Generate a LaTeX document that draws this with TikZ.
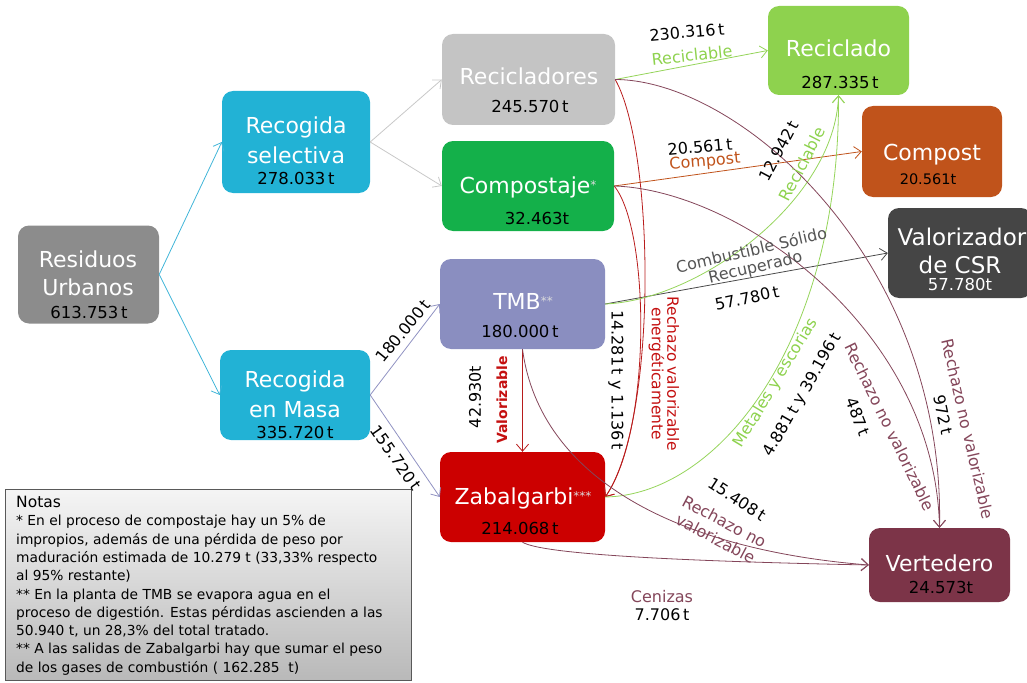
\documentclass[tikz,border=0pt]{standalone}
\usepackage{fontspec}
\setmainfont{DejaVu Sans}
\usetikzlibrary{arrows.meta}

\definecolor{cRes}{HTML}{8C8C8C}
\definecolor{cCyan}{HTML}{22B2D5}
\definecolor{cRecic}{HTML}{C4C4C4}
\definecolor{cCompo}{HTML}{14B04A}
\definecolor{cTMB}{HTML}{8A8EC0}
\definecolor{cZab}{HTML}{CC0000}
\definecolor{cRcl}{HTML}{8ED24E}
\definecolor{cCompost}{HTML}{C0531B}
\definecolor{cVal}{HTML}{454545}
\definecolor{cVert}{HTML}{7C3448}
\definecolor{eCyan}{HTML}{40B5D8}
\definecolor{eGrey}{HTML}{C8C8C8}
\definecolor{eLav}{HTML}{9092C2}
\definecolor{eRed}{HTML}{B81C1C}
\definecolor{eGreen}{HTML}{95D45A}
\definecolor{eBrown}{HTML}{C0531B}
\definecolor{eCSR}{HTML}{4A4A4A}
\definecolor{eMar}{HTML}{84465A}
\definecolor{lRed}{HTML}{C41010}
\definecolor{lGreen}{HTML}{8ED24E}
\definecolor{lMar}{HTML}{84465A}
\definecolor{lGrey}{HTML}{555555}
\definecolor{cStar}{HTML}{DDDDDD}

\newcommand{\stars}[1]{{\color{cStar}\fontsize{12}{12}\selectfont\raisebox{4pt}{#1}}}

\begin{document}
\begin{tikzpicture}[x=1pt,y=-1pt,
  box/.style={rounded corners=11pt, inner sep=0pt, draw=none},
  ttl/.style={text=white, font=\fontsize{22}{26}\selectfont, anchor=base, inner sep=0pt},
  num/.style={text=black, font=\fontsize{16.5}{19}\selectfont, anchor=base, inner sep=0pt},
  lbl/.style={font=\fontsize{16}{19}\selectfont, inner sep=0pt, align=center},
  conn/.style={line width=0.8pt, -{Straight Barb[length=7pt,width=12pt]}}
]
\useasboundingbox (0,0) rectangle (1027,682);

% boxes
\node[box, fill=cRes, minimum width=141pt, minimum height=98pt] (res) at (88.5,274.5) {};
\node[box, fill=cCyan, minimum width=148pt, minimum height=102pt] (sel) at (296,142) {};
\node[box, fill=cCyan, minimum width=150pt, minimum height=90pt] (masa) at (295,395) {};
\node[box, fill=cRecic, minimum width=173pt, minimum height=91pt] (recic) at (528.5,79.5) {};
\node[box, fill=cCompo, minimum width=172pt, minimum height=90pt] (compo) at (528,186) {};
\node[box, fill=cTMB, minimum width=165pt, minimum height=90pt] (tmb) at (522.5,304) {};
\node[box, fill=cZab, minimum width=165pt, minimum height=90pt] (zab) at (522.5,497) {};
\node[box, fill=cRcl, minimum width=141pt, minimum height=89pt] (rcl) at (838.5,50.5) {};
\node[box, fill=cCompost, minimum width=140pt, minimum height=91pt] (compost) at (932,151.5) {};
\node[box, fill=cVal, minimum width=144pt, minimum height=90pt] (val) at (960,253) {};
\node[box, fill=cVert, minimum width=141pt, minimum height=74pt] (vert) at (939.5,565) {};

% notes box
\node[draw=gray!70!black, line width=0.8pt, top color=gray!8, bottom color=gray!55, minimum width=406pt, minimum height=191pt, inner sep=0pt] (notes) at (208,584.5) {};
\node[anchor=north west, inner sep=0pt, align=left, font=\fontsize{13.8}{18.3}\selectfont] (ntxt) at (16,496) {{\fontsize{15.5}{18}\selectfont Notas}\\
* En el proceso de compostaje hay un 5\% de\\
impropios, además de una pérdida de peso por\\
maduración estimada de 10.279 t (33,33\% respecto\\
al 95\% restante)\\
** En la planta de TMB se evapora agua en el\\
proceso de digestión. Estas pérdidas ascienden a las\\
50.940 t, un 28,3\% del total tratado.\\
** A las salidas de Zabalgarbi hay que sumar el peso\\
de los gases de combustión ( 162.285 \ t)};

% connectors
\draw[conn, eCyan] (res.east) -- (sel.west);
\draw[conn, eCyan] (res.east) -- (masa.west);
\draw[conn, eGrey] (sel.east) -- (recic.west);
\draw[conn, eGrey] (sel.east) -- (compo.west);
\draw[conn, eLav] (masa.east) -- (tmb.west);
\draw[conn, eLav] (masa.east) -- (zab.west);
\draw[conn, eRed] (tmb.south) -- (zab.north);
\draw[conn, eGreen] (recic.east) -- (rcl.west);
\draw[conn, eBrown] (compo.east) -- (compost.west);
\draw[conn, eCSR] (tmb.east) -- (val.west);
\draw[conn, eRed] (recic.east) .. controls (655,150) and (658,420) .. (zab.east);
\draw[conn, eRed] (compo.east) .. controls (650,230) and (652,430) .. (zab.east);
\draw[conn, eGreen] (tmb.east) .. controls (700,300) and (835,200) .. (rcl.south);
\draw[conn, eGreen] (zab.east) .. controls (720,495) and (840,340) .. (rcl.south);
\draw[conn, eMar] (recic.east) .. controls (740,80) and (945,260) .. (vert.north);
\draw[conn, eMar] (compo.east) .. controls (740,190) and (935,330) .. (vert.north);
\draw[conn, eMar] (tmb.south) .. controls (540,480) and (680,550) .. (vert.west);
\draw[conn, eMar] (zab.south) .. controls (545,556) and (720,562) .. (vert.west);

% box texts
\node[ttl] (res-a) at (88,267) {Residuos};
\node[ttl] (res-b) at (88,295) {Urbanos};
\node[num] (res-n) at (89,318) {613.753\,t};
\node[ttl] (sel-a) at (296,133) {Recogida};
\node[ttl] (sel-b) at (296,163) {selectiva};
\node[num] (sel-n) at (296,184) {278.033\,t};
\node[ttl] (masa-a) at (295,387) {Recogida};
\node[ttl] (masa-b) at (295,417) {en Masa};
\node[num] (masa-n) at (295,438) {335.720\,t};
\node[ttl] (recic-a) at (529,85) {Recicladores};
\node[num] (recic-n) at (530,113) {245.570\,t};
\node[ttl] (compo-a) at (528,193) {Compostaje\stars{*}};
\node[num] (compo-n) at (537,224) {32.463t};
\node[ttl] (tmb-a) at (523,309) {TMB\stars{**}};
\node[num] (tmb-n) at (520,337) {180.000\,t};
\node[ttl] (zab-a) at (523,504) {Zabalgarbi\stars{***}};
\node[num] (zab-n) at (520,534) {214.068\,t};
\node[ttl] (rcl-a) at (838.5,57) {Reciclado};
\node[num] (rcl-n) at (840,89) {287.335\,t};
\node[ttl] (compost-a) at (932,160) {Compost};
\node[num, font=\fontsize{14.5}{17}\selectfont] (compost-n) at (928,184) {20.561t};
\node[ttl, font=\fontsize{23}{27}\selectfont] (val-a) at (962,245) {Valorizador};
\node[ttl, font=\fontsize{23}{27}\selectfont] (val-b) at (960,273) {de CSR};
\node[num, text=white] (val-n) at (960,290) {57.780t};
\node[ttl] (vert-a) at (939.5,571) {Vertedero};
\node[num] (vert-n) at (941,593) {24.573t};

% connector labels
\node[lbl, rotate=5] (l1) at (687,32) {230.316\,t};
\node[lbl, rotate=6, text=lGreen] (l2) at (692,55) {Reciclable};
\node[lbl, rotate=5] (l3) at (700,147) {20.561\,t};
\node[lbl, rotate=5, text=eBrown] (l4) at (705,162) {Compost};
\node[lbl, rotate=62] (l5) at (779,151) {12.942\,t};
\node[lbl, rotate=63, text=lGreen] (l6) at (802,164) {Reciclable};
\node[lbl, rotate=13, text=lGrey, font=\fontsize{16}{17}\selectfont] (l7) at (753.5,259.5) {Combustible Sólido\\Recuperado};
\node[lbl, rotate=12] (l8) at (747,298) {57.780\,t};
\node[lbl, rotate=51] (l9) at (403,331) {180.000\,t};
\node[lbl, rotate=-55] (l10) at (396,458) {155.720\,t};
\node[lbl, rotate=90] (l11) at (475,397) {42.930t};
\node[lbl, rotate=90, text=lRed, font=\fontsize{14}{17}\selectfont\bfseries] (l12) at (502,400) {Valorizable};
\node[lbl, rotate=-90] (l13) at (616,380) {14.281\,t y 1.136\,t};
\node[lbl, rotate=-90, text=lRed, font=\fontsize{15.5}{15.5}\selectfont] (l14) at (664,374) {Rechazo valorizable\\energéticamente};
\node[lbl, rotate=59, text=lGreen] (l15) at (776,383) {Metales y escorias};
\node[lbl, rotate=60] (l16) at (803,395) {4.881\,t y 39.196\,t};
\node[lbl, rotate=-64, text=lMar] (l17) at (890,427) {Rechazo no valorizable};
\node[lbl, rotate=-68] (l18) at (858,417) {487\,t};
\node[lbl, rotate=-78] (l19) at (943,415) {972\,t};
\node[lbl, rotate=-77, text=lMar] (l20) at (968,429) {Rechazo no valorizable};
\node[lbl, rotate=-33] (l21) at (737,499) {15.408\,t};
\node[lbl, rotate=-28, text=lMar, font=\fontsize{16}{19}\selectfont] (l22) at (720,530) {Rechazo no\\valorizable};
\node[lbl, text=lMar] (l23) at (662,597) {Cenizas};
\node[lbl] (l24) at (662,615) {7.706\,t};
\end{tikzpicture}
\end{document}
